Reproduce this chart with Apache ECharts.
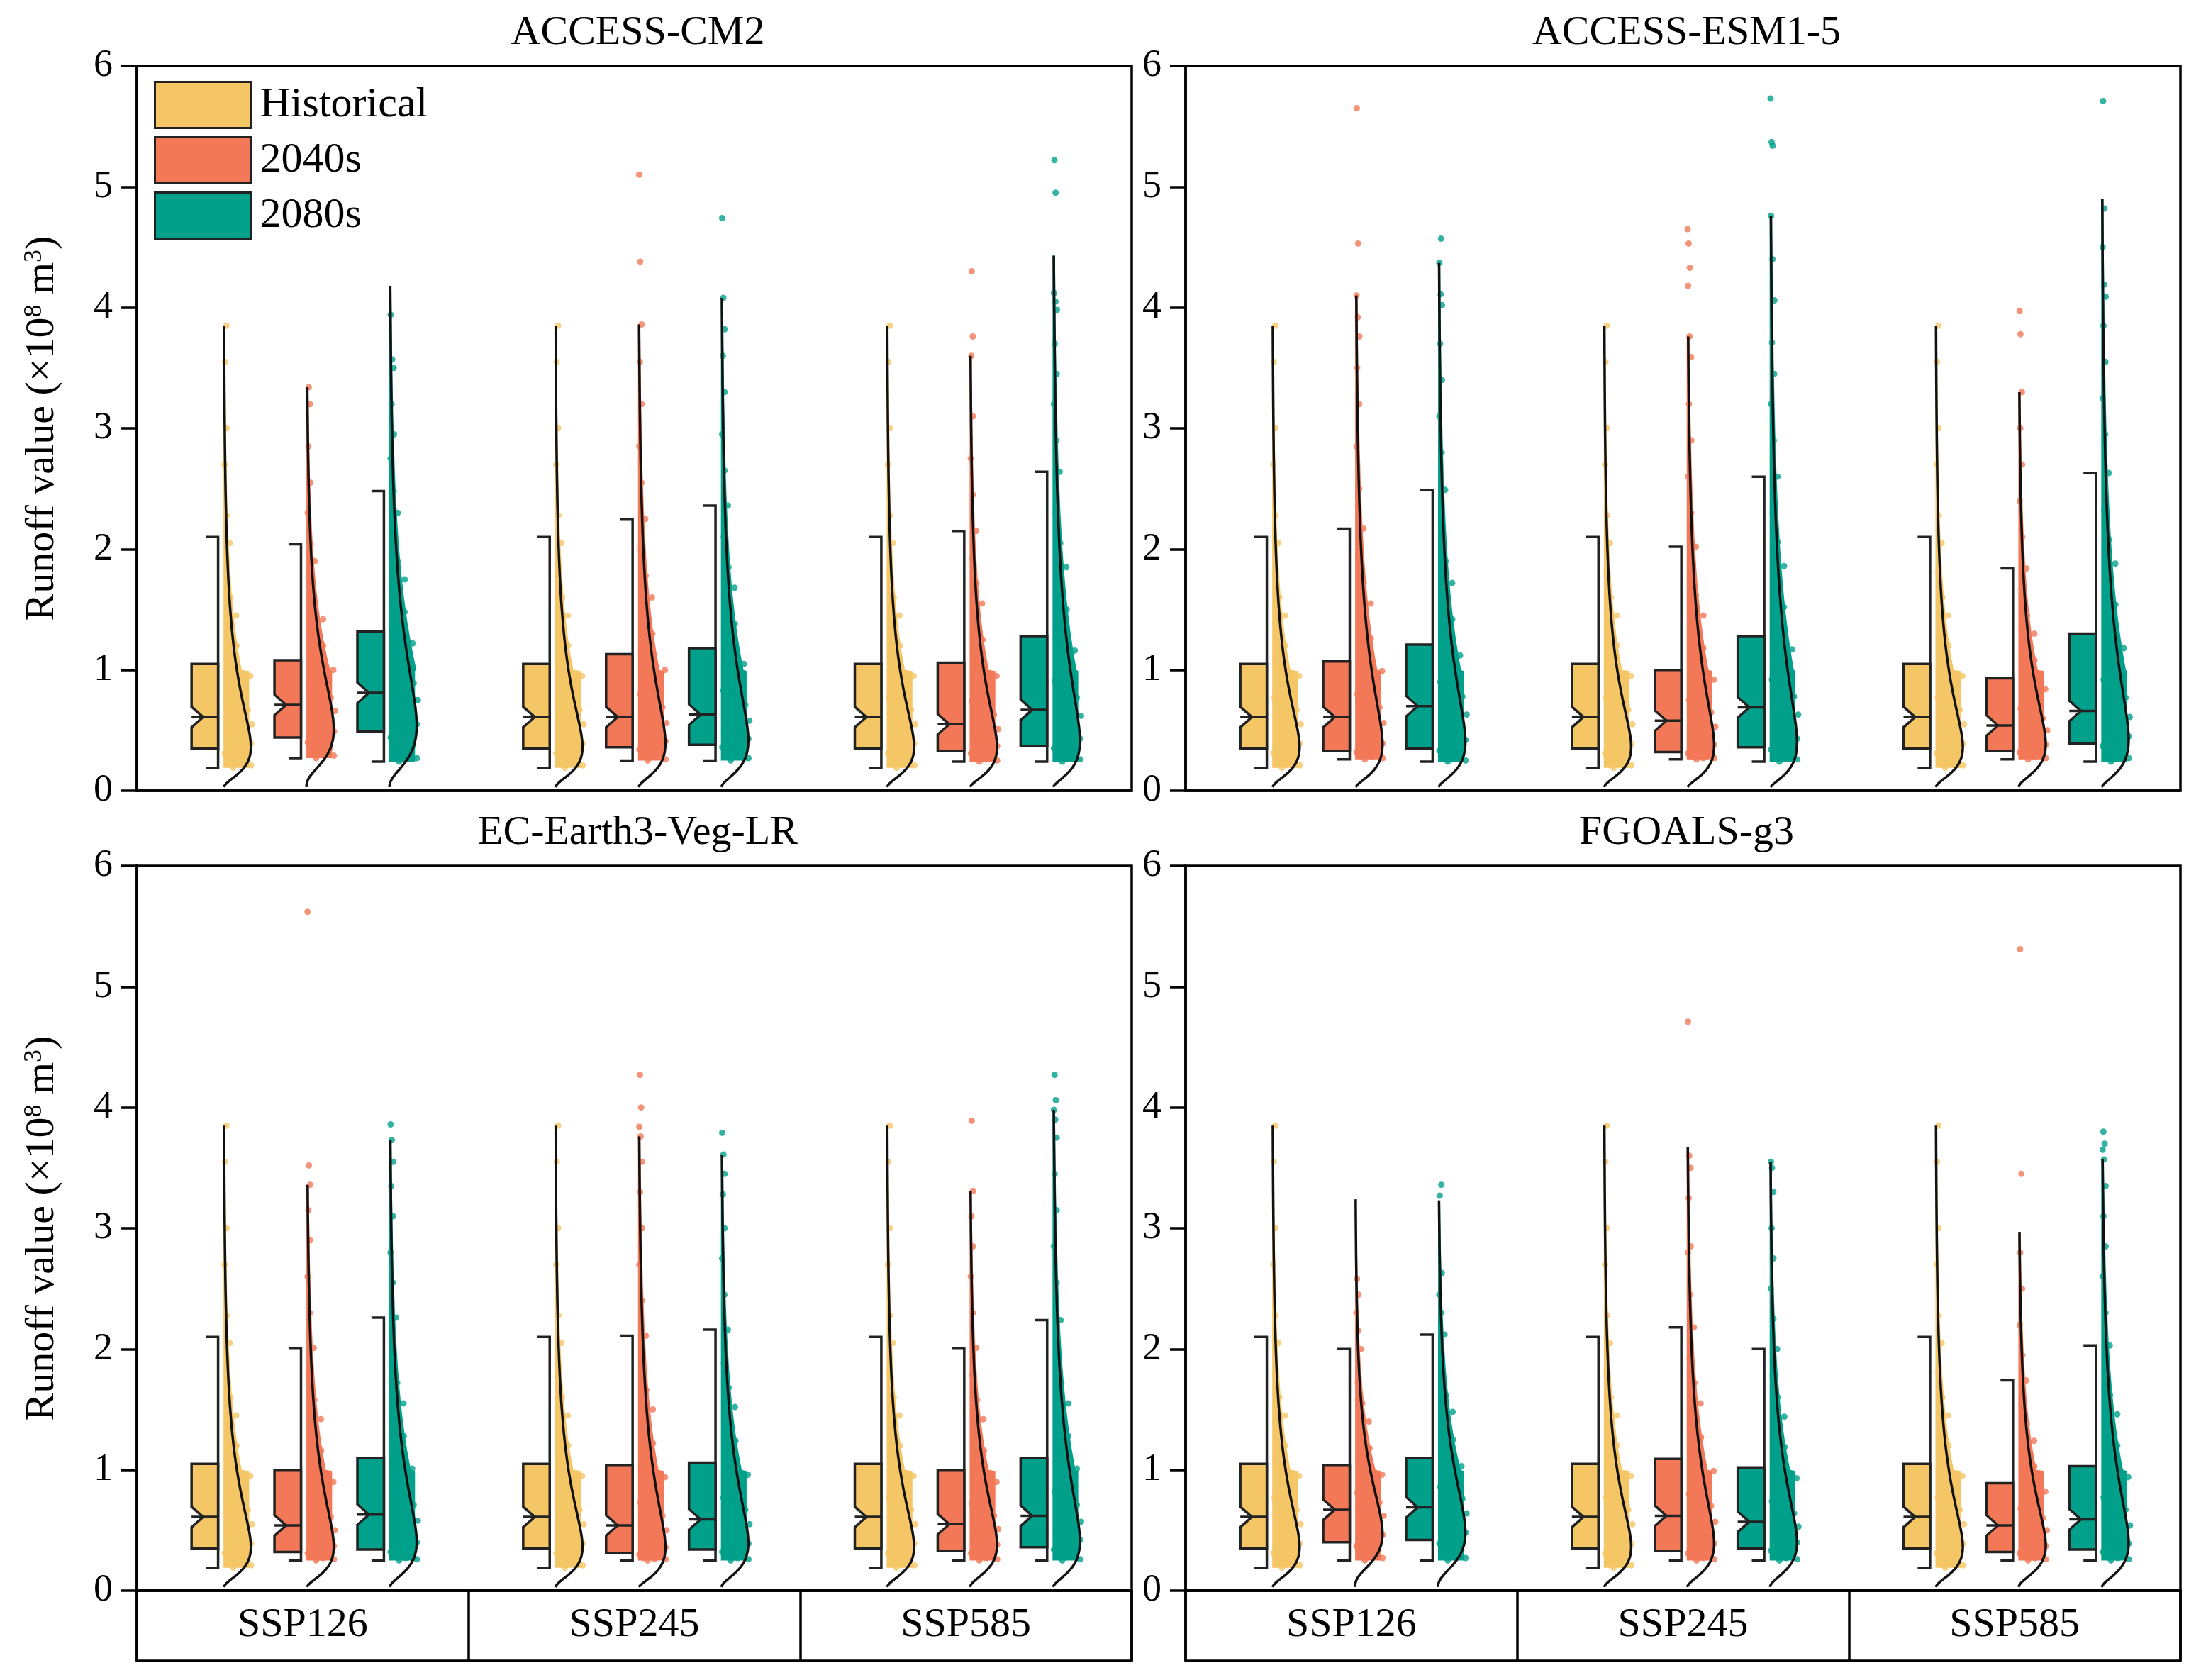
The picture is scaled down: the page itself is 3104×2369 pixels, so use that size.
<!DOCTYPE html>
<html>
<head>
<meta charset="utf-8">
<script src="https://cdn.jsdelivr.net/npm/echarts@6/dist/echarts.min.js"></script>
<style>
  html, body { margin: 0; padding: 0; background: #fff; }
  #chart { width: 3104px; height: 2369px; }
</style>
</head>
<body>
<div id="chart"></div>
<script>
const FONT = 'Liberation Serif';
const periods = ['Historical', '2040s', '2080s'];
const colors = ['#F5C665', '#F27857', '#00A08B'];
const scenarios = ['SSP126', 'SSP245', 'SSP585'];
const models = ['ACCESS-CM2', 'ACCESS-ESM1-5', 'EC-Earth3-Veg-LR', 'FGOALS-g3'];

// box stats: [lower whisker, Q1, median, Q3, upper whisker, top of density line]
const histBox = [0.19, 0.35, 0.61, 1.05, 2.10, 3.85];
const histPts = [0.19,0.21,0.23,0.25,0.27,0.29,0.31,0.33, 0.36,0.39,0.42,0.45,0.48,0.52,0.55,0.59,
  0.63,0.67,0.72,0.77,0.83,0.89,0.95,1.02, 1.10,1.20,1.32,1.45,1.60,1.80,2.05,2.28,2.70,3.00,3.55,3.85];

// ACCESS-CM2
const cm2Box = [
  [0.27, 0.44, 0.71, 1.08, 2.04, 3.34], [0.24, 0.49, 0.81, 1.32, 2.48, 4.18],
  [0.25, 0.36, 0.61, 1.13, 2.25, 3.86], [0.25, 0.38, 0.63, 1.18, 2.36, 4.08],
  [0.24, 0.33, 0.55, 1.06, 2.15, 3.60], [0.24, 0.37, 0.67, 1.28, 2.64, 4.43]
];
const cm2_126_40 = [0.27,0.29,0.31,0.33,0.35,0.37,0.40,0.42, 0.45,0.49,0.52,0.56,0.59,0.63,0.66,0.69,
  0.73,0.77,0.81,0.85,0.90,0.95,1.00,1.06, 1.12,1.20,1.30,1.42,1.55,1.72,1.90,2.04, 2.30,2.55,2.85,3.20,3.34];
const cm2_126_80 = [0.24,0.27,0.30,0.34,0.37,0.41,0.44,0.47, 0.51,0.55,0.59,0.63,0.67,0.71,0.75,0.79,
  0.84,0.89,0.95,1.01,1.08,1.15,1.22,1.30, 1.38,1.48,1.60,1.75,1.90,2.10,2.30,2.48, 2.75,2.95,3.20,3.50,3.57,3.94];
const cm2_245_40 = [0.25,0.26,0.28,0.29,0.31,0.32,0.34,0.35, 0.38,0.41,0.44,0.47,0.50,0.53,0.56,0.59,
  0.64,0.69,0.74,0.80,0.86,0.93,1.00,1.10, 1.18,1.30,1.45,1.60,1.78,2.00,2.25, 2.55,2.85,3.20,3.55,3.86,4.38,5.10];
const cm2_245_80 = [0.25,0.27,0.28,0.30,0.32,0.34,0.36,0.37, 0.40,0.43,0.46,0.49,0.52,0.55,0.58,0.61,
  0.66,0.71,0.77,0.83,0.90,0.97,1.05,1.15, 1.25,1.38,1.52,1.68,1.85,2.10,2.36, 2.65,2.95,3.30,3.60,3.82,4.08,4.74];
const cm2_585_40 = [0.24,0.25,0.26,0.27,0.28,0.30,0.31,0.32, 0.35,0.37,0.40,0.42,0.45,0.48,0.51,0.54,
  0.58,0.63,0.68,0.74,0.80,0.87,0.95,1.04, 1.12,1.25,1.40,1.55,1.72,1.92,2.15, 2.45,2.75,3.10,3.60,3.76,4.30];
const cm2_585_80 = [0.24,0.26,0.27,0.29,0.31,0.33,0.35,0.36, 0.40,0.43,0.47,0.51,0.55,0.58,0.62,0.66,
  0.71,0.77,0.84,0.91,0.99,1.07,1.16,1.26, 1.36,1.50,1.65,1.85,2.05,2.30,2.64, 2.90,3.20,3.45,3.70,3.98,4.05,4.12,4.95,5.22];

// ACCESS-ESM1-5
const esmBox = [
  [0.26, 0.33, 0.61, 1.07, 2.17, 4.10], [0.24, 0.35, 0.70, 1.21, 2.49, 4.37],
  [0.26, 0.32, 0.58, 1.00, 2.02, 3.76], [0.24, 0.36, 0.69, 1.28, 2.60, 4.76],
  [0.26, 0.33, 0.54, 0.93, 1.84, 3.30], [0.24, 0.39, 0.66, 1.30, 2.63, 4.90]
];
const esm_126_40 = [0.26,0.27,0.28,0.29,0.30,0.31,0.32,0.33, 0.36,0.39,0.43,0.46,0.50,0.53,0.56,0.60,
  0.64,0.69,0.74,0.80,0.86,0.92,0.99,1.06, 1.14,1.26,1.40,1.55,1.72,1.92,2.17, 2.50,2.85,3.20,3.50,3.76,3.92,4.10,4.53,5.65];
const esm_126_80 = [0.24,0.25,0.27,0.28,0.30,0.31,0.33,0.34, 0.38,0.42,0.46,0.50,0.55,0.59,0.63,0.68,
  0.73,0.78,0.84,0.90,0.97,1.04,1.12,1.20, 1.30,1.42,1.56,1.72,1.90,2.15,2.49, 2.80,3.10,3.40,3.70,4.02,4.11,4.37,4.57];
const esm_245_40 = [0.26,0.27,0.27,0.28,0.29,0.30,0.31,0.32, 0.35,0.38,0.41,0.44,0.47,0.50,0.53,0.57,
  0.61,0.65,0.70,0.75,0.80,0.86,0.92,0.99, 1.07,1.18,1.30,1.45,1.62,1.80,2.02, 2.30,2.60,2.90,3.20,3.59,3.76,4.18,4.33,4.53,4.65];
const esm_245_80 = [0.24,0.26,0.27,0.29,0.30,0.32,0.34,0.35, 0.39,0.43,0.47,0.51,0.55,0.59,0.63,0.67,
  0.72,0.78,0.85,0.92,1.00,1.08,1.17,1.27, 1.38,1.52,1.68,1.86,2.06,2.30,2.60, 2.90,3.20,3.45,3.71,4.06,4.40,4.76,5.34,5.37,5.73];
const esm_585_40 = [0.26,0.27,0.28,0.29,0.30,0.31,0.32,0.33, 0.35,0.38,0.40,0.43,0.45,0.48,0.50,0.53,
  0.56,0.60,0.64,0.68,0.73,0.78,0.84,0.92, 0.99,1.08,1.18,1.30,1.45,1.62,1.84, 2.10,2.40,2.70,3.00,3.30,3.78,3.97];
const esm_585_80 = [0.24,0.27,0.29,0.31,0.33,0.35,0.37,0.38, 0.41,0.45,0.48,0.51,0.55,0.58,0.61,0.65,
  0.70,0.77,0.84,0.92,1.00,1.09,1.18,1.28, 1.40,1.54,1.70,1.88,2.08,2.32,2.63, 2.95,3.25,3.55,3.85,4.09,4.19,4.50,4.82,5.71];

// EC-Earth3-Veg-LR
const ecBox = [
  [0.25, 0.32, 0.54, 1.00, 2.01, 3.36], [0.25, 0.34, 0.63, 1.10, 2.26, 3.73],
  [0.25, 0.31, 0.54, 1.04, 2.11, 3.76], [0.25, 0.34, 0.59, 1.06, 2.16, 3.61],
  [0.25, 0.33, 0.55, 1.00, 2.01, 3.31], [0.25, 0.36, 0.62, 1.10, 2.24, 3.98]
];
const ec_126_40 = [0.25,0.26,0.27,0.28,0.29,0.30,0.31,0.32, 0.34,0.37,0.39,0.42,0.45,0.47,0.50,0.53,
  0.57,0.61,0.66,0.71,0.77,0.83,0.90,0.98, 1.06,1.16,1.28,1.42,1.58,1.78,2.01, 2.30,2.60,2.90,3.15,3.36,3.52,5.62];
const ec_126_80 = [0.25,0.26,0.27,0.28,0.30,0.31,0.32,0.33, 0.37,0.40,0.44,0.47,0.51,0.55,0.58,0.62,
  0.66,0.71,0.76,0.82,0.88,0.94,1.01,1.09, 1.17,1.28,1.40,1.55,1.72,1.95,2.26, 2.55,2.80,3.10,3.35,3.55,3.73,3.86];
const ec_245_40 = [0.25,0.26,0.26,0.27,0.28,0.29,0.30,0.31, 0.33,0.36,0.39,0.42,0.44,0.47,0.50,0.53,
  0.57,0.62,0.67,0.73,0.79,0.86,0.94,1.03, 1.11,1.22,1.35,1.50,1.66,1.85,2.11, 2.40,2.70,3.00,3.30,3.55,3.76,3.84,4.00,4.27];
const ec_245_80 = [0.25,0.26,0.27,0.28,0.30,0.31,0.32,0.33, 0.36,0.39,0.42,0.45,0.49,0.52,0.55,0.58,
  0.62,0.67,0.72,0.77,0.83,0.89,0.96,1.05, 1.13,1.24,1.37,1.52,1.68,1.88,2.16, 2.45,2.75,3.00,3.28,3.45,3.61,3.79];
const ec_585_40 = [0.25,0.26,0.27,0.28,0.29,0.30,0.31,0.32, 0.35,0.38,0.40,0.43,0.46,0.48,0.51,0.54,
  0.58,0.62,0.67,0.72,0.77,0.83,0.90,0.98, 1.06,1.16,1.28,1.42,1.58,1.78,2.01, 2.30,2.60,2.85,3.10,3.31,3.89];
const ec_585_80 = [0.25,0.26,0.28,0.29,0.31,0.32,0.34,0.35, 0.38,0.42,0.45,0.48,0.51,0.54,0.57,0.61,
  0.66,0.71,0.76,0.82,0.88,0.94,1.01,1.09, 1.17,1.28,1.40,1.55,1.72,1.95,2.24, 2.55,2.85,3.15,3.45,3.75,3.90,3.98,4.06,4.27];

// FGOALS-g3
const fgBox = [
  [0.25, 0.40, 0.67, 1.04, 2.00, 3.24], [0.25, 0.42, 0.69, 1.10, 2.12, 3.23],
  [0.25, 0.33, 0.62, 1.09, 2.18, 3.67], [0.25, 0.35, 0.57, 1.02, 2.00, 3.55],
  [0.25, 0.32, 0.54, 0.89, 1.74, 2.97], [0.25, 0.34, 0.59, 1.03, 2.03, 3.57]
];
const fg_126_40 = [0.25,0.27,0.29,0.31,0.33,0.35,0.37,0.39, 0.42,0.46,0.49,0.52,0.55,0.58,0.62,0.65,
  0.69,0.73,0.77,0.81,0.86,0.91,0.96,1.03, 1.10,1.18,1.28,1.40,1.55,1.72,2.00, 2.15,2.30,2.45,2.58];
const fg_126_80 = [0.25,0.27,0.30,0.32,0.34,0.36,0.39,0.41, 0.44,0.48,0.51,0.55,0.58,0.61,0.64,0.68,
  0.72,0.76,0.81,0.86,0.91,0.97,1.03,1.09, 1.16,1.25,1.36,1.48,1.62,1.80,2.12, 2.30,2.45,2.63,3.27,3.36];
const fg_245_40 = [0.25,0.26,0.27,0.28,0.29,0.30,0.31,0.32, 0.35,0.39,0.42,0.46,0.50,0.53,0.57,0.61,
  0.65,0.70,0.75,0.80,0.86,0.92,0.99,1.08, 1.16,1.27,1.40,1.55,1.72,1.92,2.18, 2.45,2.80,2.85,3.25,3.50,3.60,4.71];
const fg_245_80 = [0.25,0.26,0.27,0.28,0.30,0.31,0.33,0.34, 0.37,0.40,0.42,0.45,0.48,0.51,0.53,0.56,
  0.60,0.64,0.69,0.74,0.80,0.86,0.93,1.01, 1.09,1.19,1.30,1.44,1.60,1.78,2.00, 2.25,2.50,2.75,3.00,3.30,3.50,3.55];
const fg_585_40 = [0.25,0.26,0.27,0.28,0.29,0.30,0.31,0.32, 0.34,0.37,0.40,0.42,0.45,0.48,0.50,0.53,
  0.56,0.60,0.64,0.68,0.72,0.77,0.82,0.88, 0.95,1.03,1.12,1.24,1.38,1.55,1.74, 1.95,2.20,2.50,2.80,3.45,5.31];
const fg_585_80 = [0.25,0.26,0.27,0.28,0.29,0.31,0.32,0.33, 0.36,0.39,0.42,0.45,0.48,0.51,0.54,0.58,
  0.62,0.67,0.72,0.77,0.82,0.88,0.94,1.02, 1.10,1.20,1.32,1.46,1.62,1.80,2.03, 2.30,2.60,2.85,3.10,3.35,3.57,3.65,3.70,3.80];

const modelBox = [cm2Box, esmBox, ecBox, fgBox];
const modelPts = [
  [cm2_126_40, cm2_126_80, cm2_245_40, cm2_245_80, cm2_585_40, cm2_585_80],
  [esm_126_40, esm_126_80, esm_245_40, esm_245_80, esm_585_40, esm_585_80],
  [ec_126_40, ec_126_80, ec_245_40, ec_245_80, ec_585_40, ec_585_80],
  [fg_126_40, fg_126_80, fg_245_40, fg_245_80, fg_585_40, fg_585_80]
];

// layout
const panels = [{ left: 193, top: 93 }, { left: 1672, top: 93 }, { left: 193, top: 1221 }, { left: 1672, top: 1221 }];
const PW = 1403, PH = 1022, STRIP = 99;
const BOX_W = 0.32, NOTCH_D = 0.14, NOTCH_H = 0.085, CAP = 0.15, GAP = 0.065, PEAK = 0.33;
const CLOUD_W = 0.31, CLOUD_CUT = 1.0;   // width of the dense dot cloud below the cut
const LW = 3.5;

function groupOf(m, s, k) {
  if (k === 0) return { box: histBox, pts: histPts };
  const i = s * 2 + (k - 1);
  return { box: modelBox[m][i], pts: modelPts[m][i] };
}

// lognormal density fitted to the points, scaled so its peak is PEAK wide
function fitWidth(pts) {
  const l = pts.map(Math.log);
  const mu = l.reduce((a, b) => a + b, 0) / l.length;
  const sd = Math.sqrt(l.reduce((a, b) => a + (b - mu) * (b - mu), 0) / (l.length - 1));
  const pdf = y => Math.exp(-Math.pow(Math.log(y) - mu, 2) / (2 * sd * sd)) / y;
  const peak = pdf(Math.exp(mu - sd * sd));
  return y => PEAK * pdf(y) / peak;
}

const grids = [], xAxes = [], yAxes = [], series = [];
panels.forEach((pn, p) => {
  grids.push({ left: pn.left, top: pn.top, width: PW, height: PH, show: true, borderColor: '#000', borderWidth: LW });
  xAxes.push({
    type: 'value', gridIndex: p, min: 0, max: 12,
    axisLine: { show: true, lineStyle: { color: '#000', width: LW } },
    axisTick: { show: false }, axisLabel: { show: false }, splitLine: { show: false }
  });
  yAxes.push({
    type: 'value', gridIndex: p, min: 0, max: 6, interval: 1,
    name: p % 2 === 0 ? 'Runoff value (×10{s|8} m{s|3})' : '',
    nameLocation: 'middle', nameGap: 104,
    nameTextStyle: {
      fontFamily: FONT, fontSize: 58, color: '#000',
      rich: { s: { fontFamily: FONT, fontSize: 36, color: '#000', verticalAlign: 'top' } }
    },
    axisLine: { show: true, lineStyle: { color: '#000', width: LW } },
    axisTick: { show: true, inside: false, length: 22, lineStyle: { color: '#000', width: LW } },
    axisLabel: { fontFamily: FONT, fontSize: 54, color: '#000', margin: 34 },
    splitLine: { show: false }
  });
});

// scenario strips under the lower panels
[2, 3].forEach((p, j) => {
  const g = 4 + j;
  grids.push({ left: panels[p].left, top: panels[p].top + PH, width: PW, height: STRIP, show: true, borderColor: '#000', borderWidth: LW });
  xAxes.push({
    type: 'category', gridIndex: g, data: scenarios, position: 'top',
    axisLine: { show: false, onZero: false },
    axisTick: { show: true, inside: true, length: STRIP, lineStyle: { color: '#000', width: LW } },
    axisLabel: { inside: true, margin: 20, fontFamily: FONT, fontSize: 58, color: '#000' },
    splitLine: { show: false }
  });
  yAxes.push({ type: 'value', gridIndex: g, min: 0, max: 1, show: false });
});

for (let p = 0; p < 4; p++) {
  for (let k = 0; k < 3; k++) {
    const boxData = [], dots = [], fills = [], curves = [];
    for (let s = 0; s < 3; s++) {
      const g = groupOf(p, s, k);
      const xr = 4 * s + k + 0.98, xb = xr + GAP, top = g.box[5];
      boxData.push([xr, g.box[0], g.box[1], g.box[2], g.box[3], g.box[4]]);
      const w = fitWidth(g.pts);
      const spread = y => (y <= CLOUD_CUT ? Math.max(w(y), CLOUD_W) : w(y) * 1.3 + 0.015);
      const lo = Math.min(...g.pts);
      const curve = [], edge = [];
      for (let y = 0.03; y < top; y += 0.01) {
        curve.push([xb + w(y), y]);
        if (y >= lo) edge.push([xb + Math.min(spread(y), w(y) * 1.3 + 0.01 + (y <= CLOUD_CUT ? CLOUD_W : 0)), y]);
      }
      curve.push([xb + w(top), top]);
      curves.push(curve);
      fills.push([[xb, lo]].concat(edge, [[xb + w(top), top], [xb, top]]));
      g.pts.forEach((v, i) => {
        const f = (i * 0.618034 + 0.31) % 1;
        dots.push([xb + 0.01 + f * 1.12 * spread(v), v]);
      });
    }
    const idx = { xAxisIndex: p, yAxisIndex: p };
    series.push({
      type: 'custom', name: 'fill' + p + k, ...idx, z: 1, silent: true,
      data: fills.map((_, i) => [i, 0]),
      renderItem: (params, api) => ({
        type: 'polygon',
        shape: { points: fills[params.dataIndex].map(pt => api.coord(pt)) },
        style: { fill: colors[k] }
      })
    });
    series.push({
      type: 'scatter', name: 'dots' + p + k, ...idx, z: 3, silent: true,
      symbolSize: 9, itemStyle: { color: colors[k] }, data: dots
    });
    series.push({
      type: 'custom', name: 'curve' + p + k, ...idx, z: 4, silent: true,
      data: curves.map((_, i) => [i, 0]),
      renderItem: (params, api) => ({
        type: 'polyline',
        shape: { points: curves[params.dataIndex].map(pt => api.coord(pt)) },
        style: { stroke: '#111', lineWidth: LW, fill: null }
      })
    });
    series.push({
      type: 'custom', name: periods[k], ...idx, z: 2, silent: true,
      itemStyle: { color: colors[k] },
      data: boxData,
      renderItem: (params, api) => {
        const xr = api.value(0), wb = api.value(1), q1 = api.value(2), med = api.value(3), q3 = api.value(4), wt = api.value(5);
        const xl = xr - BOX_W;
        const c = pt => api.coord(pt);
        const m1 = c([xl, med]), m2 = c([xr, med]);
        return {
          type: 'group',
          children: [
            { type: 'polyline', shape: { points: [c([xr - CAP, wb]), c([xr, wb]), c([xr, wt]), c([xr - CAP, wt])] },
              style: { stroke: '#222', lineWidth: LW, fill: null } },
            { type: 'polygon',
              shape: { points: [c([xl, q1]), c([xr, q1]), c([xr, q3]), c([xl, q3]),
                c([xl, med + NOTCH_H]), c([xl + NOTCH_D, med]), c([xl, med - NOTCH_H])] },
              style: { fill: colors[k], stroke: '#222', lineWidth: LW } },
            { type: 'line', shape: { x1: m1[0], y1: m1[1], x2: m2[0], y2: m2[1] },
              style: { stroke: '#222', lineWidth: LW } }
          ]
        };
      }
    });
  }
}

const chart = echarts.init(document.getElementById('chart'));
chart.setOption({
  backgroundColor: '#fff',
  animation: false,
  title: models.map((m, i) => ({
    text: m, left: panels[i].left + PW / 2, top: panels[i].top - 80, textAlign: 'center',
    textStyle: { fontFamily: FONT, fontSize: 58, fontWeight: 'normal', color: '#000' }
  })),
  legend: {
    left: 212, top: 109, orient: 'vertical', itemWidth: 135, itemHeight: 65, itemGap: 10,
    selectedMode: false,
    textStyle: { fontFamily: FONT, fontSize: 60, color: '#000', padding: [0, 0, 0, 8] },
    data: periods.map((n, k) => ({ name: n, icon: 'rect', itemStyle: { color: colors[k], borderColor: '#222', borderWidth: 3 } }))
  },
  grid: grids,
  xAxis: xAxes,
  yAxis: yAxes,
  series: series
});
</script>
</body>
</html>
